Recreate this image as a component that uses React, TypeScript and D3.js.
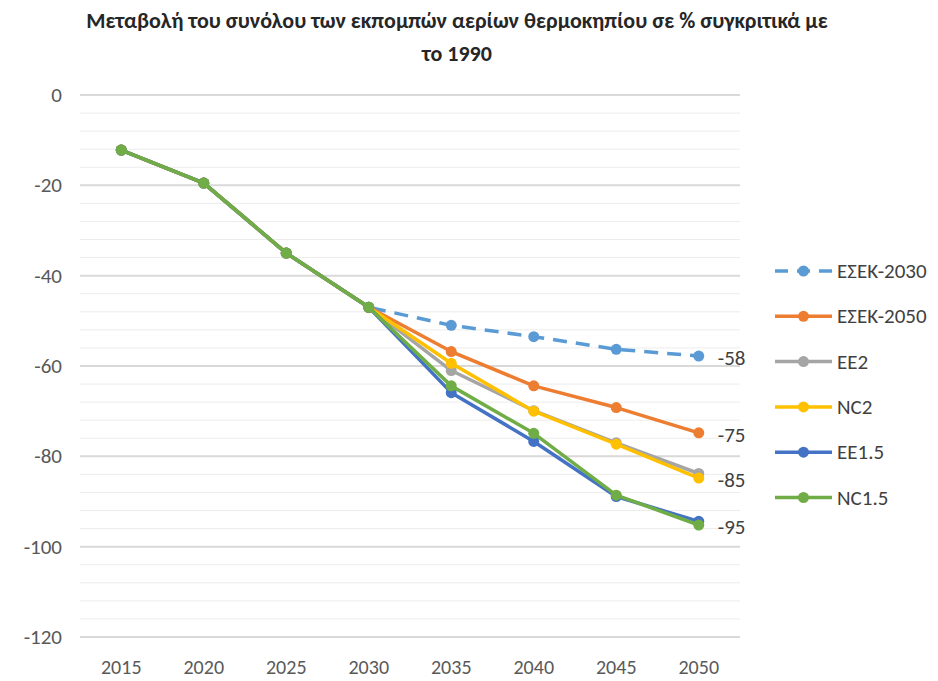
import React, { useEffect, useRef } from 'react';
import * as d3 from 'd3';

// Years on the category axis
const years = ['2015', '2020', '2025', '2030', '2035', '2040', '2045', '2050'];

// Series values (% change vs 1990)
const esek2030 = [-12.2, -19.5, -35, -47, -51, -53.5, -56.3, -57.8];
const esek2050 = [-12.2, -19.5, -35, -47, -56.8, -64.4, -69.2, -74.8];
const ee2 = [-12.2, -19.5, -35, -47, -61, -69.9, -77, -83.8];
const nc2 = [-12.2, -19.5, -35, -47, -59.4, -70, -77.3, -84.8];
const ee15 = [-12.2, -19.5, -35, -47, -65.9, -76.7, -88.9, -94.4];
const nc15 = [-12.2, -19.5, -35, -47, -64.4, -74.9, -88.6, -95.2];

const seriesNames = ['ΕΣΕΚ-2030', 'ΕΣΕΚ-2050', 'EE2', 'NC2', 'EE1.5', 'NC1.5'];
const seriesValues = [esek2030, esek2050, ee2, nc2, ee15, nc15];
const seriesColors = ['#5B9BD5', '#ED7D31', '#A5A5A5', '#FFC000', '#4472C4', '#70AD47'];

// End labels shown next to the 2050 points
const endLabels = [
    { series: 0, text: '-58' },
    { series: 1, text: '-75' },
    { series: 3, text: '-85' },
    { series: 5, text: '-95' },
];

const yTicks = [0, -20, -40, -60, -80, -100, -120];

const titleLines = [
    'Μεταβολή του συνόλου των εκπομπών αερίων θερμοκηπίου σε % συγκριτικά με',
    'το 1990',
];

const App = () => {
    const svgRef = useRef<SVGSVGElement>(null);

    useEffect(() => {
        const width = 938;
        const height = 681;
        const plot = { left: 80, right: 740, top: 95, bottom: 637 };
        const font = 'Carlito, Lato, sans-serif';

        const svg = d3.select(svgRef.current);
        svg.selectAll('*').remove();
        svg.attr('width', width).attr('height', height);

        svg.append('rect').attr('width', width).attr('height', height).attr('fill', '#fff');

        // Scales
        const xScale = d3.scaleBand().domain(years).range([plot.left, plot.right]);
        const yScale = d3.scaleLinear().domain([-120, 0]).range([plot.bottom, plot.top]);
        const xPos = (i: number) => (xScale(years[i]) as number) + xScale.bandwidth() / 2;

        // Minor grid lines every 4 units
        svg.append('g')
            .selectAll('line')
            .data(d3.range(-116, 0, 4).filter(v => v % 20 !== 0))
            .enter()
            .append('line')
            .attr('x1', plot.left)
            .attr('x2', plot.right)
            .attr('y1', d => yScale(d))
            .attr('y2', d => yScale(d))
            .attr('stroke', '#ececec')
            .attr('stroke-width', 1);

        // Major grid lines
        svg.append('g')
            .selectAll('line')
            .data(yTicks)
            .enter()
            .append('line')
            .attr('x1', plot.left)
            .attr('x2', plot.right)
            .attr('y1', d => yScale(d))
            .attr('y2', d => yScale(d))
            .attr('stroke', '#d9d9d9')
            .attr('stroke-width', 2);

        // Y tick labels
        svg.append('g')
            .selectAll('text')
            .data(yTicks)
            .enter()
            .append('text')
            .attr('x', 62)
            .attr('y', d => yScale(d) + 7)
            .attr('text-anchor', 'end')
            .attr('font-family', font)
            .attr('font-size', 21)
            .attr('fill', '#595959')
            .text(d => d);

        // X tick labels
        svg.append('g')
            .selectAll('text')
            .data(years)
            .enter()
            .append('text')
            .attr('x', (_, i) => xPos(i))
            .attr('y', 674)
            .attr('text-anchor', 'middle')
            .attr('font-family', font)
            .attr('font-size', 20)
            .attr('fill', '#595959')
            .text(d => d);

        // Lines and markers
        const line = d3.line<number>().x((_, i) => xPos(i)).y(d => yScale(d));
        seriesValues.forEach((vals, s) => {
            const g = svg.append('g');
            g.append('path')
                .datum(vals)
                .attr('d', line)
                .attr('fill', 'none')
                .attr('stroke', seriesColors[s])
                .attr('stroke-width', 3.5)
                .attr('stroke-linejoin', 'round')
                .attr('stroke-dasharray', s === 0 ? '14,9' : null);
            g.selectAll('circle')
                .data(vals)
                .enter()
                .append('circle')
                .attr('cx', (_, i) => xPos(i))
                .attr('cy', d => yScale(d))
                .attr('r', 5.5)
                .attr('fill', seriesColors[s]);
        });

        // End value labels
        svg.append('g')
            .selectAll('text')
            .data(endLabels)
            .enter()
            .append('text')
            .attr('x', xPos(years.length - 1) + 19)
            .attr('y', d => yScale(seriesValues[d.series][years.length - 1]) + 9)
            .attr('font-family', font)
            .attr('font-size', 21)
            .attr('fill', '#404040')
            .text(d => d.text);

        // Legend
        const legend = svg.append('g').attr('transform', 'translate(775,271)');
        seriesNames.forEach((name, s) => {
            const row = legend.append('g').attr('transform', `translate(0,${s * 45.3})`);
            row.append('line')
                .attr('x1', 0)
                .attr('x2', 57)
                .attr('stroke', seriesColors[s])
                .attr('stroke-width', 3.5)
                .attr('stroke-dasharray', s === 0 ? '13,9' : null);
            row.append('circle').attr('cx', 28.5).attr('r', 5.5).attr('fill', seriesColors[s]);
            row.append('text')
                .attr('x', 62)
                .attr('y', 7)
                .attr('font-family', font)
                .attr('font-size', 21)
                .attr('fill', '#404040')
                .text(name);
        });

        // Title
        svg.append('g')
            .selectAll('text')
            .data(titleLines)
            .enter()
            .append('text')
            .attr('x', 457)
            .attr('y', (_, i) => 28 + i * 33)
            .attr('text-anchor', 'middle')
            .attr('font-family', font)
            .attr('font-weight', 'bold')
            .attr('font-size', 22)
            .attr('fill', '#262626')
            .text(d => d);
    }, []);

    return (
        <svg
            ref={svgRef}
            style={{ position: 'absolute', left: 0, top: 0, display: 'block' }}
        ></svg>
    );
};

export default App;
